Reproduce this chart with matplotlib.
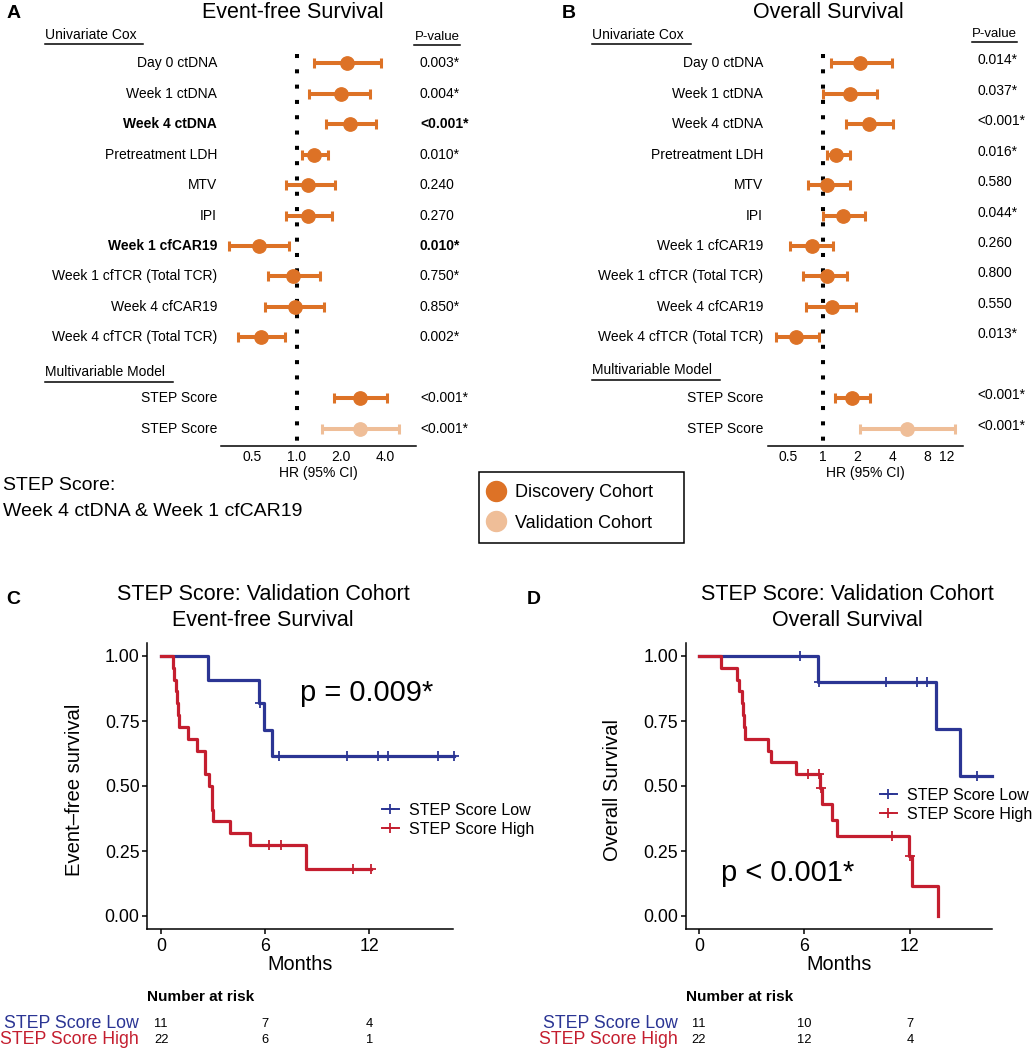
import numpy as np
import matplotlib
matplotlib.use("Agg")
import matplotlib.pyplot as plt
from matplotlib.lines import Line2D
from matplotlib.patches import Rectangle
from matplotlib.transforms import blended_transform_factory as blend

plt.rcParams['font.family'] = ['Liberation Sans', 'DejaVu Sans']

# ---- data: forest plots (HR, 95% CI) ----
cox_labels = ["Day 0 ctDNA", "Week 1 ctDNA", "Week 4 ctDNA", "Pretreatment LDH", "MTV", "IPI",
              "Week 1 cfCAR19", "Week 1 cfTCR (Total TCR)", "Week 4 cfCAR19", "Week 4 cfTCR (Total TCR)"]
step_labels = ["STEP Score", "STEP Score"]

efs_hr = [2.20, 2.00, 2.30, 1.31, 1.19, 1.19, 0.56, 0.95, 0.97, 0.57]
efs_lo = [1.31, 1.21, 1.58, 1.09, 0.85, 0.85, 0.35, 0.64, 0.61, 0.40]
efs_hi = [3.73, 3.12, 3.45, 1.63, 1.83, 1.73, 0.89, 1.43, 1.53, 0.83]
efs_p = ["0.003*", "0.004*", "<0.001*", "0.010*", "0.240", "0.270", "0.010*", "0.750*", "0.850*", "0.002*"]
efs_step_hr = [2.70, 2.70]
efs_step_lo = [1.78, 1.49]
efs_step_hi = [4.06, 4.93]
efs_step_p = ["<0.001*", "<0.001*"]

os_hr = [2.12, 1.71, 2.50, 1.30, 1.09, 1.50, 0.80, 1.09, 1.20, 0.59]
os_lo = [1.17, 1.00, 1.58, 1.08, 0.74, 1.00, 0.52, 0.67, 0.71, 0.39]
os_hi = [4.00, 2.96, 4.10, 1.74, 1.74, 2.35, 1.23, 1.64, 1.93, 0.92]
os_p = ["0.014*", "0.037*", "<0.001*", "0.016*", "0.580", "0.044*", "0.260", "0.800", "0.550", "0.013*"]
os_step_hr = [1.81, 5.40]
os_step_lo = [1.29, 2.10]
os_step_hi = [2.56, 14.1]
os_step_p = ["<0.001*", "<0.001*"]

# ---- data: Kaplan-Meier curves (validation cohort) ----
efs_low_t = [0, 2.68, 5.65, 5.93, 6.38, 16.9]
efs_low_s = [1.0, 0.909, 0.818, 0.716, 0.614, 0.614]
efs_low_ct = [5.72, 6.81, 10.73, 12.48, 13.09, 15.94, 16.9]
efs_low_cs = [0.818, 0.614, 0.614, 0.614, 0.614, 0.614, 0.614]
efs_high_t = [0, 0.70, 0.75, 0.85, 0.90, 0.95, 1.00, 1.57, 2.09, 2.55, 2.75, 2.90, 3.00, 3.99, 5.14, 8.33, 12.08]
efs_high_s = [1.0, 0.955, 0.909, 0.864, 0.818, 0.773, 0.727, 0.682, 0.636, 0.545, 0.500, 0.409, 0.364,
              0.318, 0.273, 0.182, 0.182]
efs_high_ct = [6.24, 6.91, 11.08, 12.08]
efs_high_cs = [0.273, 0.273, 0.182, 0.182]

os_low_t = [0, 6.75, 13.48, 14.85, 16.65]
os_low_s = [1.0, 0.90, 0.72, 0.54, 0.54]
os_low_ct = [5.75, 6.80, 10.64, 12.38, 12.99, 15.80]
os_low_cs = [1.0, 0.90, 0.90, 0.90, 0.90, 0.54]
os_high_t = [0, 1.23, 2.14, 2.29, 2.43, 2.50, 2.56, 2.60, 3.94, 4.10, 5.52, 6.88, 7.01, 7.55, 7.83,
             11.92, 12.10, 13.60]
os_high_s = [1.0, 0.955, 0.909, 0.864, 0.818, 0.773, 0.727, 0.682, 0.636, 0.591, 0.545, 0.491, 0.430,
             0.368, 0.307, 0.230, 0.115, 0.0]
os_high_ct = [6.22, 6.84, 6.95, 11.00, 12.00]
os_high_cs = [0.545, 0.545, 0.491, 0.307, 0.230]

risk_times = [0, 6, 12]
efs_risk_low = [11, 7, 4]
efs_risk_high = [22, 6, 1]
os_risk_low = [11, 10, 7]
os_risk_high = [22, 12, 4]

ORANGE = "#DD7226"
LIGHT = "#EFBE98"
BLUE = "#2B3594"
RED = "#C41E2F"

W, H = 1036, 1050
fig = plt.figure(figsize=(W / 100, H / 100), dpi=100)


def fx(x):
    return x / W


def fy(y):
    return 1 - y / H


def px_axes(l, t, r, b):
    return fig.add_axes([fx(l), fy(b), (r - l) / W, (b - t) / H])


def ftext(x, y, s, **kw):
    kw.setdefault("va", "center")
    return fig.text(fx(x), fy(y), s, **kw)


def fline(x0, x1, y, lw=1.1):
    fig.add_artist(Line2D([fx(x0), fx(x1)], [fy(y), fy(y)], color="black", lw=lw,
                          transform=fig.transFigure))


def forest(box, xlim, ticks, ticklabels, hr, lo, hi, pv, shr, slo, shi, spv,
           lab_x, p_x, bold_rows=(), p_shift=0.0):
    ax = px_axes(*box)
    ax.set_xscale("log", base=2)
    ax.set_xlim(xlim)
    ax.set_ylim(12.57, -0.44)
    for s in ["top", "right", "left"]:
        ax.spines[s].set_visible(False)
    ax.spines["bottom"].set_linewidth(1.1)
    ax.set_yticks([])
    ax.set_xticks(ticks)
    ax.set_xticklabels(ticklabels)
    ax.xaxis.set_minor_locator(matplotlib.ticker.NullLocator())
    ax.tick_params(axis="x", length=0, pad=3, labelsize=10)
    ax.set_xlabel("HR (95% CI)", fontsize=10, labelpad=1)
    ax.plot([1, 1], [-0.3, 12.57], color="black", lw=2.9, ls=(0, (1, 2.8)),
            dash_capstyle="butt", zorder=1, clip_on=False)
    rows = np.arange(len(hr))
    hr, lo, hi = np.array(hr), np.array(lo), np.array(hi)
    ax.errorbar(hr, rows, xerr=[hr - lo, hi - hr], fmt="o", color=ORANGE, ms=9.6,
                elinewidth=2.9, capsize=3.6, capthick=2.2, zorder=3)
    srows = [11, 12]
    for r, h, l, u, c in zip(srows, shr, slo, shi, [ORANGE, LIGHT]):
        ax.errorbar([h], [r], xerr=[[h - l], [u - h]], fmt="o", color=c, ms=9.6,
                    elinewidth=2.9, capsize=3.6, capthick=2.2, zorder=3)
    tr = blend(fig.transFigure, ax.transData)
    for i, (lab, p) in enumerate(zip(cox_labels, pv)):
        w = "bold" if i in bold_rows else "normal"
        ax.text(fx(lab_x), i, lab, transform=tr, ha="right", va="center", fontsize=10, fontweight=w)
        ax.text(fx(p_x), i + p_shift, p, transform=tr, ha="left", va="center", fontsize=10,
                fontweight=w)
    for r, lab, p in zip(srows, step_labels, spv):
        ax.text(fx(lab_x), r, lab, transform=tr, ha="right", va="center", fontsize=10)
        ax.text(fx(p_x), r + p_shift, p, transform=tr, ha="left", va="center", fontsize=10)
    return ax


# ---- Panel A ----
ftext(7, 13, "A", fontsize=14, fontweight="bold")
ftext(202, 13, "Event-free Survival", fontsize=15.5)
ftext(45, 35, "Univariate Cox", fontsize=10)
fline(45, 143, 44)
ftext(437, 37, "P-value", fontsize=9.5, ha="center")
fline(414, 460, 45)
ftext(45, 372, "Multivariable Model", fontsize=10)
fline(45, 173, 382)
forest((220.7, 50, 416, 446), (0.306, 6.42), [0.5, 1, 2, 4], ["0.5", "1.0", "2.0", "4.0"],
       efs_hr, efs_lo, efs_hi, efs_p, efs_step_hr, efs_step_lo, efs_step_hi, efs_step_p,
       217, 420, bold_rows=(2, 6))

# ---- Panel B ----
ftext(562, 13, "B", fontsize=14, fontweight="bold")
ftext(753, 13, "Overall Survival", fontsize=15.5)
ftext(592, 35, "Univariate Cox", fontsize=10)
fline(592, 691, 44)
ftext(994, 34, "P-value", fontsize=9.5, ha="center")
fline(972, 1017, 42)
ftext(592, 370, "Multivariable Model", fontsize=10)
fline(592, 720, 380)
forest((767.7, 50, 963.3, 446), (0.333, 16.6), [0.5, 1, 2, 4, 8, 12],
       ["0.5", "1", "2", "4", "8", "12"],
       os_hr, os_lo, os_hi, os_p, os_step_hr, os_step_lo, os_step_hi, os_step_p,
       763, 977, p_shift=-0.1)

# STEP score note + cohort legend
ftext(3, 485, "STEP Score:", fontsize=14)
ftext(3, 511, "Week 4 ctDNA & Week 1 cfCAR19", fontsize=14)
fig.add_artist(Rectangle((fx(479), fy(543)), (684 - 479) / W, (543 - 472) / H, fill=False,
                         edgecolor="black", lw=1.1, transform=fig.transFigure))
coh_handles = [Line2D([], [], ls="none", marker="o", ms=14.4, color=ORANGE),
               Line2D([], [], ls="none", marker="o", ms=14.4, color=LIGHT)]
fig.legend(coh_handles, ["Discovery Cohort", "Validation Cohort"], loc="center left",
           bbox_to_anchor=(fx(486), fy(508)), frameon=False, fontsize=13, borderpad=0,
           borderaxespad=0, handlelength=1.1, handletextpad=0.5, labelspacing=0.75)


def km(box, xlim, lt, ls_, lct, lcs, ht, hs, hct, hcs, ylab, ylab_x, title2, ptxt, p_xy,
       leg_xy, risk_low, risk_high, lab_right):
    ax = px_axes(*box)
    ax.step(lt, ls_, where="post", color=BLUE, lw=2.3, clip_on=False)
    ax.plot(lct, lcs, ls="none", marker="+", ms=7, mew=1.3, color=BLUE, clip_on=False)
    ax.step(ht, hs, where="post", color=RED, lw=2.3, clip_on=False)
    ax.plot(hct, hcs, ls="none", marker="+", ms=7, mew=1.3, color=RED, clip_on=False)
    ax.set_xlim(xlim)
    ax.set_ylim(-0.05, 1.05)
    ax.set_xticks(risk_times)
    ax.set_yticks([0, 0.25, 0.5, 0.75, 1.0])
    ax.set_yticklabels(["0.00", "0.25", "0.50", "0.75", "1.00"])
    for s in ["top", "right"]:
        ax.spines[s].set_visible(False)
    for s in ["left", "bottom"]:
        ax.spines[s].set_linewidth(1.1)
    ax.tick_params(length=3.6, width=1.1, labelsize=12.8, pad=2)
    ax.tick_params(axis="x", pad=3)
    l, t, r, b = box
    ftext((l + r) / 2, 964, "Months", fontsize=14.3, ha="center")
    ftext(ylab_x, (t + b) / 2 + 4, ylab, fontsize=14.6, ha="center", rotation=90)
    ftext(title2[0], 595, "STEP Score: Validation Cohort", fontsize=15.5, ha="center")
    ftext(title2[0], 621, title2[1], fontsize=15.5, ha="center")
    ftext(p_xy[0], p_xy[1], ptxt, fontsize=21, ha="left")
    handles = [Line2D([], [], color=BLUE, marker="+", ms=7, mew=1.3, lw=1.4),
               Line2D([], [], color=RED, marker="+", ms=7, mew=1.3, lw=1.4)]
    ax.legend(handles, ["STEP Score Low", "STEP Score High"], loc="center left",
              bbox_to_anchor=(fx(leg_xy[0]), fy(leg_xy[1])), bbox_transform=fig.transFigure,
              frameon=False, fontsize=11.5, borderpad=0, borderaxespad=0, handlelength=1.05,
              handletextpad=0.65, labelspacing=0.25)
    # risk table
    ftext(l, 997, "Number at risk", fontsize=11, fontweight="bold", ha="left")
    tr = blend(ax.transData, fig.transFigure)
    for tt, nl, nh in zip(risk_times, risk_low, risk_high):
        ax.text(tt, fy(1024), str(nl), transform=tr, ha="center", va="center", fontsize=9.3)
        ax.text(tt, fy(1040), str(nh), transform=tr, ha="center", va="center", fontsize=9.3)
    ftext(lab_right, 1024, "STEP Score Low", fontsize=12.8, ha="right", color=BLUE)
    ftext(lab_right, 1040, "STEP Score High", fontsize=12.8, ha="right", color=RED)
    return ax


# ---- Panel C ----
ftext(6, 600, "C", fontsize=14, fontweight="bold")
km((147.3, 643, 452.7, 929), (-0.8, 16.8), efs_low_t, efs_low_s, efs_low_ct, efs_low_cs,
   efs_high_t, efs_high_s, efs_high_ct, efs_high_cs, "Event\u2013free survival", 75,
   (263, "Event-free Survival"), "p = 0.009*", (300, 693), (382, 820),
   efs_risk_low, efs_risk_high, 139)

# ---- Panel D ----
ftext(527, 600, "D", fontsize=14, fontweight="bold")
km((686, 643, 991.7, 929), (-0.74, 16.65), os_low_t, os_low_s, os_low_ct, os_low_cs,
   os_high_t, os_high_s, os_high_ct, os_high_cs, "Overall Survival", 612,
   (847, "Overall Survival"), "p < 0.001*", (721, 873), (880, 805),
   os_risk_low, os_risk_high, 678)

fig.savefig("out.png", dpi=100)
print("Wrote out.png")
